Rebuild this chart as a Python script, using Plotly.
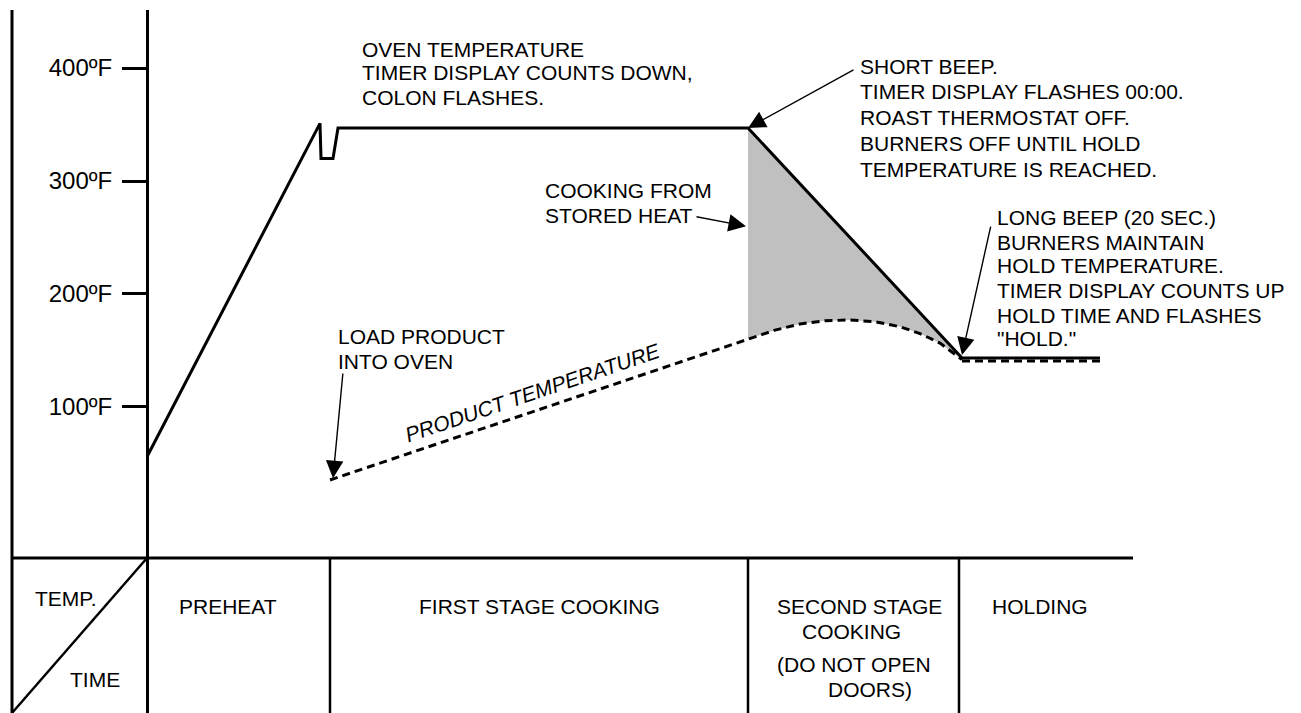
import numpy as np
import plotly.graph_objects as go

# ---------------- data ----------------
# time axis is schematic (arbitrary time units)
oven_time = [147, 320, 321, 333, 338, 748, 962, 1100]
oven_temp = [56, 351, 320, 320, 347, 347, 143.4, 143.4]

product_time = [330, 748, 775, 800, 825, 850, 875, 900, 920, 940, 962]
product_temp = [35.4, 160.4, 168, 173.5, 176.3, 177, 175.5, 171, 165, 156.5, 142]
hold_time = [962, 1100]
hold_product_temp = [140.8, 140.8]

temp_ticks = [100, 200, 300, 400]
temp_tick_labels = ["100ºF", "200ºF", "300ºF", "400ºF"]

stage_edges = [147, 330, 748, 959]
stage_names = ["PREHEAT", "FIRST STAGE COOKING", "SECOND STAGE", "HOLDING"]

FONT = "Liberation Sans, Arial, Helvetica, sans-serif"
# page has an 8px body margin; ranges compensate so the drawing sits where intended
PAGE_OFF = 8
W, H = 1301, 713
Y_MAX = 451.33
Y_MIN = -177.9
TABLE_TOP = -33.6
X_LEFT, X_RIGHT = 12, 1133

fig = go.Figure()

# stored-heat fill between oven decline and product curve
pt = np.array(product_time)
pv = np.array(product_temp)
mask = pt >= 748
fx = pt[mask]
oven_at = np.interp(fx, oven_time[4:7], oven_temp[4:7])
fig.add_trace(go.Scatter(
    x=list(fx) + list(fx[::-1]),
    y=list(pv[mask]) + list(oven_at[::-1]),
    fill="toself", fillcolor="#c0c0c0", mode="none",
    hoverinfo="skip", showlegend=False))

# product temperature (dashed)
fig.add_trace(go.Scatter(x=product_time, y=product_temp, mode="lines",
                         line=dict(color="black", width=3, dash="8px,5px"),
                         showlegend=False))
fig.add_trace(go.Scatter(x=hold_time, y=hold_product_temp, mode="lines",
                         line=dict(color="black", width=3, dash="8px,5px"),
                         showlegend=False))
# oven temperature (solid)
fig.add_trace(go.Scatter(x=oven_time, y=oven_temp, mode="lines",
                         line=dict(color="black", width=3),
                         showlegend=False))

shapes = []
def line(x0, y0, x1, y1, w=3):
    shapes.append(dict(type="line", xref="x", yref="y", x0=x0, y0=y0, x1=x1, y1=y1,
                       line=dict(color="black", width=w)))

line(X_LEFT, Y_MIN, X_LEFT, Y_MAX + 2)          # left border
line(X_LEFT, TABLE_TOP, X_RIGHT, TABLE_TOP)     # table top
for e in stage_edges[1:]:
    line(e, TABLE_TOP, e, Y_MIN, 2.5)
line(stage_edges[0], TABLE_TOP, X_LEFT, -170.8, 2.5)  # diagonal

ann = []
def txt(x, y, s, anchor="left", size=21, italic=False, angle=0):
    ann.append(dict(x=x, y=y, xref="x", yref="y", text=s, showarrow=False,
                    xanchor=anchor, yanchor="middle", textangle=angle,
                    font=dict(family=FONT, size=size, color="black",
                              style="italic" if italic else "normal")))

def arrow(hx, hy, tx, ty):
    ann.append(dict(x=hx, y=hy, ax=tx, ay=ty, xref="x", yref="y", axref="x", ayref="y",
                    text="", showarrow=True, arrowhead=2, arrowsize=2.5,
                    arrowwidth=1.4, arrowcolor="black", standoff=0))

for i, s in enumerate(["OVEN TEMPERATURE", "TIMER DISPLAY COUNTS DOWN,", "COLON FLASHES."]):
    txt(360, [416.8, 395.6, 374.3][i], s)

for i, s in enumerate(["SHORT BEEP.", "TIMER DISPLAY FLASHES 00:00.", "ROAST THERMOSTAT OFF.",
                       "BURNERS OFF UNTIL HOLD", "TEMPERATURE IS REACHED."]):
    txt(858, [400.9, 378.8, 356.6, 333.6, 310.6][i], s)
arrow(748, 347, 855, 399)

for i, s in enumerate(["LONG BEEP (20 SEC.)", "BURNERS MAINTAIN", "HOLD TEMPERATURE.",
                       "TIMER DISPLAY COUNTS UP", "HOLD TIME AND FLASHES", "\"HOLD.\""]):
    txt(995, [268.1, 246.0, 224.8, 203.5, 181.4, 160.2][i], s)
arrow(962, 146, 991, 261)

for i, s in enumerate(["COOKING FROM", "STORED HEAT"]):
    txt(543, [291.2, 269.9][i], s)
arrow(746, 260, 695, 268.6)

for i, s in enumerate(["LOAD PRODUCT", "INTO OVEN"]):
    txt(336, [162.8, 140.7][i], s)
arrow(333, 37, 343, 131)

txt(533, 112.4, "PRODUCT TEMPERATURE", anchor="center", italic=True, angle=-18.7)

# table labels
txt(65, -69.9, "TEMP.", anchor="center")
txt(95, -141.6, "TIME", anchor="center")
txt(228, -77, stage_names[0], anchor="center")
txt(539, -77, stage_names[1], anchor="center")
txt(859, -77, stage_names[2], anchor="center")
txt(851, -99.1, "COOKING", anchor="center")
txt(854, -128.3, "(DO NOT OPEN", anchor="center")
txt(870, -150.4, "DOORS)", anchor="center")
txt(1040, -77, stage_names[3], anchor="center")

fig.update_layout(
    width=W, height=H,
    margin=dict(l=0, r=0, t=10 - PAGE_OFF, b=0),
    paper_bgcolor="white", plot_bgcolor="white",
    shapes=shapes, annotations=ann,
    xaxis=dict(range=[PAGE_OFF, W + PAGE_OFF], visible=False, fixedrange=True),
    yaxis=dict(range=[Y_MIN, Y_MAX], anchor="free", position=(147 - PAGE_OFF) / W,
               showline=True, linewidth=3, linecolor="black",
               ticks="outside", ticklen=24, tickwidth=2.5, tickcolor="black",
               tickvals=temp_ticks, ticktext=temp_tick_labels,
               tickfont=dict(family=FONT, size=24, color="black"),
               ticklabelstandoff=5, showgrid=False, zeroline=False, fixedrange=True),
    showlegend=False,
)

fig.write_html("out.html")
